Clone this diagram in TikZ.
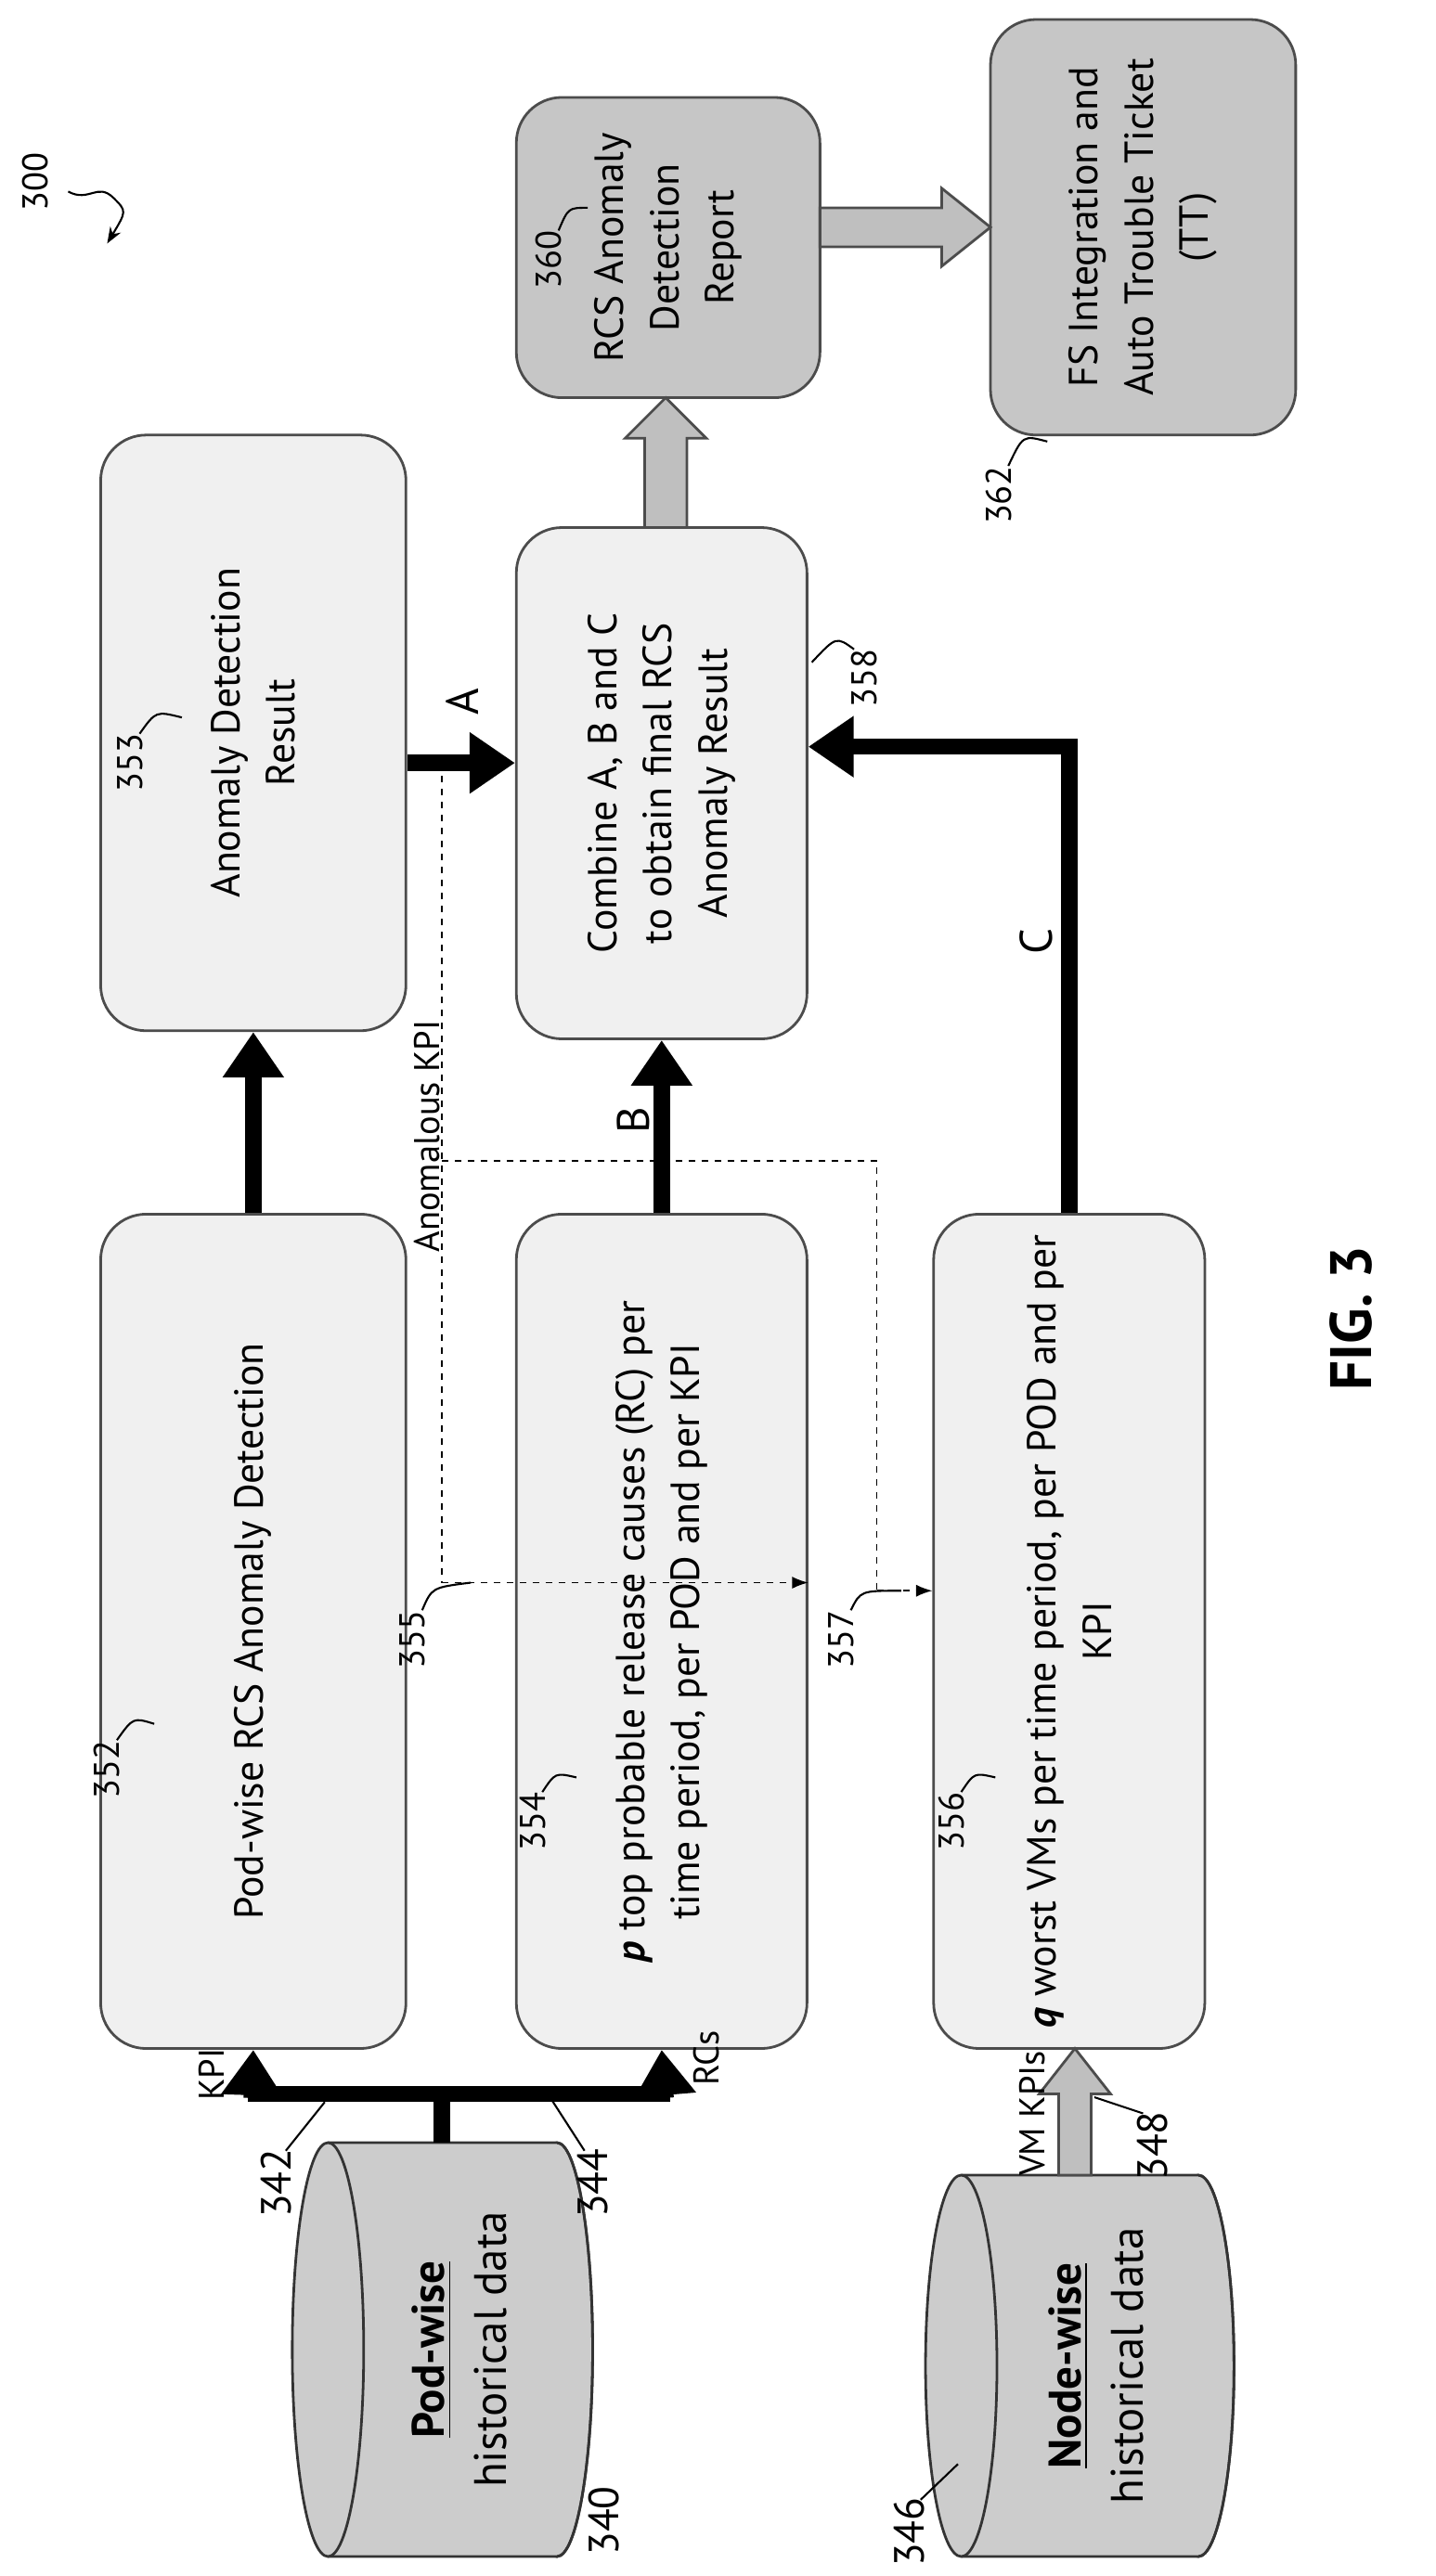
\documentclass[tikz,border=0pt]{standalone}
\usepackage{fontspec}
\setmainfont{PT Sans}
\usetikzlibrary{arrows.meta}
\begin{document}
\begin{tikzpicture}[x=0.5pt,y=-0.5pt,
  bx/.style={draw=black!70,rounded corners=14pt,fill=gray!12,line width=0.8pt,rotate=90,align=center,font=\fontsize{12.5}{17}\selectfont,inner sep=4pt},
  dbx/.style={bx,fill=gray!45},
  num/.style={rotate=90,font=\fontsize{11}{13}\selectfont},
  tarr/.style={line width=5pt,-{Triangle[length=14pt,width=18pt]}},
  garr/.style={draw=black!70,fill=gray!50,line width=0.8pt},
  lead/.style={line width=0.6pt},
  dsh/.style={line width=0.5pt,dash pattern=on 2pt off 2pt},
  cyl/.style={draw=black!80,fill=gray!40,line width=0.8pt}]
\useasboundingbox (0,0) rectangle (884,1587);
% boxes
\node[bx,minimum width=257pt,minimum height=94pt] (b352) at (156,1005) {Pod-wise RCS Anomaly Detection};
\node[bx,minimum width=183.5pt,minimum height=94pt] (b353) at (156,451.5) {Anomaly Detection\\Result};
\node[bx,minimum width=257pt,minimum height=89.5pt] (b354) at (407.5,1005) {\textbf{\textit{p}} top probable release causes (RC) per\\time period, per POD and per KPI};
\node[bx,minimum width=157.5pt,minimum height=89.5pt] (b358) at (407.5,482.5) {Combine A, B and C\\to obtain final RCS\\Anomaly Result};
\node[bx,minimum width=257pt,minimum height=83.5pt] (b356) at (658.5,1005) {\textbf{\textit{q}} worst VMs per time period, per POD and per\\KPI};
\node[dbx,minimum width=92.5pt,minimum height=93.5pt] (b360) at (411.5,152.5) {RCS Anomaly\\Detection\\Report};
\node[dbx,minimum width=128pt,minimum height=94pt] (b362) at (704,140) {FS Integration and\\Auto Trouble Ticket\\(TT)};
% cylinders
\path[cyl] (343,1447.5) ellipse[x radius=22,y radius=127.5];
\path[fill=gray!40] (202,1320) rectangle (343,1575);
\draw[line width=0.8pt,black!80] (202,1320) -- (343,1320) arc[start angle=-90,end angle=90,x radius=22,y radius=127.5] -- (202,1575);
\path[cyl] (202,1447.5) ellipse[x radius=22,y radius=127.5];
\node[rotate=90,align=center,font=\fontsize{14}{19}\selectfont] (c340) at (283,1447.5) {\underline{\textbf{Pod-wise}}\\historical data};
\path[cyl] (738,1457.5) ellipse[x radius=22,y radius=117.5];
\path[fill=gray!40] (592,1340) rectangle (738,1575);
\draw[line width=0.8pt,black!80] (592,1340) -- (738,1340) arc[start angle=-90,end angle=90,x radius=22,y radius=117.5] -- (592,1575);
\path[cyl] (592,1457.5) ellipse[x radius=22,y radius=117.5];
\node[rotate=90,align=center,font=\fontsize{14}{19}\selectfont] (c346) at (675,1457.5) {\underline{\textbf{Node-wise}}\\historical data};
\coordinate (c340t) at (272,1320);
% thick arrows
\draw[line width=5pt] (c340t) -- (272,1290);
\draw[line width=5pt] (152.5,1290) -- (412.5,1290);
\draw[tarr] (155,1292.5) -- (b352.west);
\draw[tarr] (410,1292.5) -- (b354.west);
\draw[tarr] (b352.east) -- (b353.west);
\draw[tarr] (b354.east) -- (b358.west);
\draw[tarr] (b356.east) -- (658.5,460) -- (b358.south |- 0,460);
\draw[tarr] (b353.south |- 0,470) -- (b358.north |- 0,470);
% gray block arrows
\path[garr] (397,325) -- (397,270) -- (385,270) -- (410,245) -- (435,270) -- (423,270) -- (423,325) -- cycle;
\path[garr] (505,128) -- (580,128) -- (580,116) -- (610,140) -- (580,164) -- (580,152) -- (505,152) -- cycle;
\path[garr] (652,1340) -- (652,1290) -- (640,1290) -- (662,1262) -- (684,1290) -- (672,1290) -- (672,1340) -- cycle;
% labels
\node[num] (lkpi) at (130,1278) {KPI};
\node[num] (lrcs) at (435,1268) {RCs};
\node[num] (lvm) at (636,1302) {VM KPIs};
\node[rotate=90,font=\fontsize{14}{18}\selectfont] (lA) at (285,432) {A};
\node[rotate=90,font=\fontsize{14}{18}\selectfont] (lB) at (390,690) {B};
\node[rotate=90,font=\fontsize{14}{18}\selectfont] (lC) at (638,580) {C};
\node[num] (lan) at (263,700) {Anomalous KPI};
% dashed
\fill (272,470) circle (2.5);
\draw[dsh] (272,470) -- (272,975);
\draw[dsh] (272,715) -- (540,715) -- (540,980);
\draw[dsh,-{Latex[length=5pt]}] (272,975) -- (b354.south |- 0,975);
\draw[dsh,-{Latex[length=5pt]}] (540,980) -- (b356.north |- 0,980);
% reference numbers
\node[num] (n300) at (22,112) {300};
\draw[lead,-{Stealth[length=5pt]}] (42,118) .. controls (55,125) and (60,112) .. (70,122) .. controls (78,130) .. (66,150);
\node[num] (n352) at (66,1090) {352};
\draw[lead] (72,1072) .. controls (82,1058) .. (95,1062);
\node[num] (n353) at (80,470) {353};
\draw[lead] (86,452) .. controls (96,438) .. (112,442);
\node[num] (n354) at (328,1122) {354};
\draw[lead] (334,1104) .. controls (342,1092) .. (355,1095);
\node[num] (n356) at (586,1122) {356};
\draw[lead] (592,1104) .. controls (600,1092) .. (613,1095);
\node[num] (n358) at (532,418) {358};
\draw[lead] (526,400) .. controls (515,392) .. (500,408);
\node[num] (n360) at (338,160) {360};
\draw[lead] (344,142) .. controls (350,128) .. (362,128);
\node[num] (n362) at (615,305) {362};
\draw[lead] (621,287) .. controls (630,268) .. (645,272);
\node[num] (n355) at (254,1010) {355};
\draw[lead] (260,992) .. controls (266,978) .. (290,975);
\node[num] (n357) at (518,1010) {357};
\draw[lead] (524,992) .. controls (530,980) .. (555,980);
\node[num,font=\fontsize{13}{16}\selectfont] (n342) at (170,1345) {342};
\draw[lead] (176,1325) -- (200,1295);
\node[num,font=\fontsize{13}{16}\selectfont] (n344) at (365,1345) {344};
\draw[lead] (360,1325) -- (340,1294);
\node[num,font=\fontsize{13}{16}\selectfont] (n348) at (710,1322) {348};
\draw[lead] (704,1302) -- (674,1292);
\node[num,font=\fontsize{13}{16}\selectfont] (n340) at (372,1553) {340};
\node[num,font=\fontsize{13}{16}\selectfont] (n346) at (560,1560) {346};
\draw[lead] (567,1540) -- (590,1518);
\node[rotate=90,font=\bfseries\fontsize{18}{20}\selectfont] (fig) at (832,812) {FIG. 3};
\end{tikzpicture}
\end{document}
